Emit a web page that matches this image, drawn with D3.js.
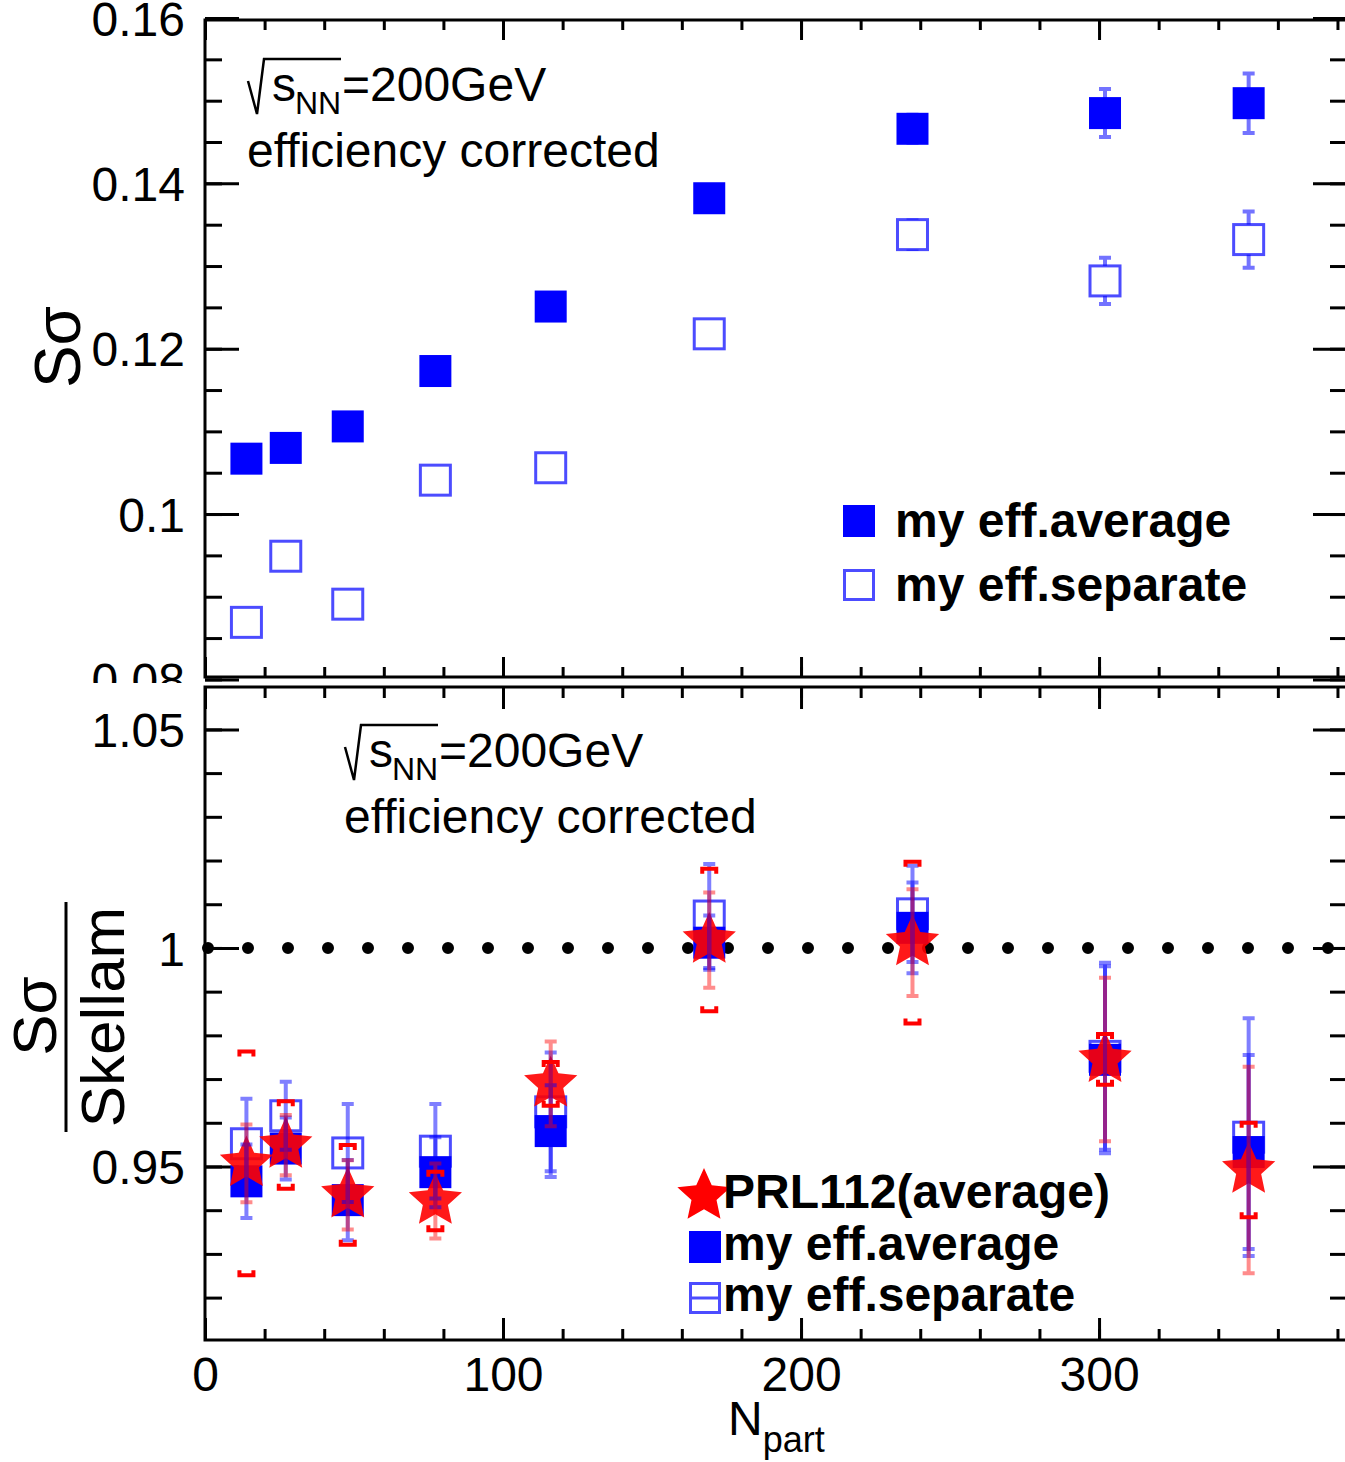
<!DOCTYPE html>
<html>
<head>
<meta charset="utf-8">
<script src="https://cdn.jsdelivr.net/npm/d3@7"></script>
<style>
  html, body { margin: 0; padding: 0; background: #fff; }
  svg { display: block; font-family: "Liberation Sans", Arial, Helvetica, sans-serif; }
</style>
</head>
<body>
<svg id="chart" width="1345" height="1462"></svg>
<script>
// N_part per centrality bin (shared by both panels)
const npart = [13.9, 27.1, 47.9, 77.3, 116.0, 169.2, 237.4, 302.0, 350.2];

// top panel: S*sigma
const avgSS    = [0.1067, 0.1080, 0.1106, 0.1173, 0.1251, 0.1382, 0.1466, 0.1485, 0.1497];
const avgSSErr = [0.0010, 0.0010, 0.0011, 0.0012, 0.0013, 0.0015, 0.0017, 0.0029, 0.0036];
const sepSS    = [0.0869, 0.0949, 0.0891, 0.1041, 0.1056, 0.1218, 0.1338, 0.1282, 0.1332];
const sepSSErr = [0.0010, 0.0010, 0.0011, 0.0012, 0.0013, 0.0015, 0.0017, 0.0028, 0.0034];

// bottom panel: S*sigma / Skellam
const prlRatio  = [0.9507, 0.9549, 0.9435, 0.9421, 0.9689, 1.0018, 1.0012, 0.9745, 0.9492];
const prlStat   = [0.0089, 0.0069, 0.0079, 0.0086, 0.0097, 0.0109, 0.0122, 0.0187, 0.0236];
const prlSys    = [0.0256, 0.0100, 0.0114, 0.0067, 0.0050, 0.0163, 0.0185, 0.0058, 0.0108];
const avgRatio  = [0.9466, 0.9541, 0.9423, 0.9487, 0.9581, 1.0012, 1.0046, 0.9744, 0.9533];
const avgRatioE = [0.0084, 0.0071, 0.0092, 0.0080, 0.0105, 0.0062, 0.0104, 0.0214, 0.0222];
const sepRatio  = [0.9552, 0.9616, 0.9531, 0.9535, 0.9625, 1.0073, 1.0078, 0.9752, 0.9567];
const sepRatioE = [0.0103, 0.0078, 0.0112, 0.0108, 0.0136, 0.0119, 0.0110, 0.0214, 0.0272];

// axes
const xMajor = [0, 100, 200, 300];
const xMinor = d3.range(0, 381, 20);
const topMajor = [0.08, 0.1, 0.12, 0.14, 0.16];
const topMinor = d3.range(16, 33).map(i => i * 0.005);
const botMajor = [0.95, 1, 1.05];
const botMinor = d3.range(92, 106).map(i => i / 100);
const legendTop = ['my eff.average', 'my eff.separate'];
const legendBot = ['PRL112(average)', 'my eff.average', 'my eff.separate'];

const BLUE = '#0000ff', RED = '#ff0000';
const svg = d3.select('#chart');
const L = 205, R = 1347;

const x = d3.scaleLinear().domain([0, 383.2]).range([L, R]);
const yTop = d3.scaleLinear().domain([0.08029, 0.15976]).range([677, 20]);
const yBot = d3.scaleLinear().domain([0.9103, 1.0597]).range([1340, 687]);

svg.append('clipPath').attr('id', 'clipTop').append('rect').attr('x', 0).attr('y', -50).attr('width', 1345).attr('height', 733);
svg.append('clipPath').attr('id', 'clipBot').append('rect').attr('x', 0).attr('y', 683).attr('width', 1345).attr('height', 800);

function styleAxis(sel, size) {
  sel.select('.domain').remove();
  sel.selectAll('line').attr('stroke', '#000').attr('stroke-width', 3);
  sel.selectAll('text').attr('fill', '#000').attr('font-size', size)
    .attr('font-family', '"Liberation Sans", Arial, sans-serif');
}

function yLabel(v) { return d3.format('~g')(v); }

// frame + ticks on all 4 sides
function panel(g, y, yMajor, yMinor, xTickLen, xLabels) {
  const [b, t] = y.range();
  const none = () => '';
  // left
  g.append('g').attr('transform', `translate(${L},0)`)
    .call(d3.axisLeft(y).tickValues(yMajor).tickSize(-34).tickSizeOuter(0).tickPadding(20).tickFormat(yLabel))
    .call(s => styleAxis(s, 48))
    .selectAll('text').attr('dy', '0.36em');
  g.append('g').attr('transform', `translate(${L},0)`)
    .call(d3.axisLeft(y).tickValues(yMinor).tickSize(-17).tickSizeOuter(0).tickFormat(none))
    .call(s => styleAxis(s, 1));
  // right
  g.append('g').attr('transform', `translate(${R},0)`)
    .call(d3.axisRight(y).tickValues(yMajor).tickSize(-34).tickSizeOuter(0).tickFormat(none))
    .call(s => styleAxis(s, 1));
  g.append('g').attr('transform', `translate(${R},0)`)
    .call(d3.axisRight(y).tickValues(yMinor).tickSize(-17).tickSizeOuter(0).tickFormat(none))
    .call(s => styleAxis(s, 1));
  // bottom
  g.append('g').attr('transform', `translate(0,${b})`)
    .call(d3.axisBottom(x).tickValues(xMajor).tickSize(-xTickLen).tickSizeOuter(0).tickPadding(17)
      .tickFormat(xLabels ? d3.format('d') : none))
    .call(s => styleAxis(s, 48));
  g.append('g').attr('transform', `translate(0,${b})`)
    .call(d3.axisBottom(x).tickValues(xMinor).tickSize(-xTickLen / 2).tickSizeOuter(0).tickFormat(none))
    .call(s => styleAxis(s, 1));
  // top
  g.append('g').attr('transform', `translate(0,${t})`)
    .call(d3.axisTop(x).tickValues(xMajor).tickSize(-xTickLen).tickSizeOuter(0).tickFormat(none))
    .call(s => styleAxis(s, 1));
  g.append('g').attr('transform', `translate(0,${t})`)
    .call(d3.axisTop(x).tickValues(xMinor).tickSize(-xTickLen / 2).tickSizeOuter(0).tickFormat(none))
    .call(s => styleAxis(s, 1));
  g.append('rect').attr('x', L).attr('y', t).attr('width', R - L).attr('height', b - t)
    .attr('fill', 'none').attr('stroke', '#000').attr('stroke-width', 3);
}

function starPath(r, k) {
  const pts = [];
  for (let i = 0; i < 10; i++) {
    const a = -Math.PI / 2 + i * Math.PI / 5;
    const rr = i % 2 ? r * k : r;
    pts.push([rr * Math.cos(a), rr * Math.sin(a)]);
  }
  return 'M' + pts.map(p => p.join(',')).join('L') + 'Z';
}
const STAR = starPath(28, 0.47);

function errBars(g, y, rows, color, op, cap) {
  const e = g.append('g').attr('stroke', color).attr('stroke-opacity', op).attr('stroke-width', 4).attr('fill', 'none');
  e.selectAll('path').data(rows).join('path')
    .attr('d', d => {
      const cx = x(d.n), y0 = y(d.v - d.e), y1 = y(d.v + d.e);
      return `M${cx},${y0}V${y1}M${cx - cap},${y0}H${cx + cap}M${cx - cap},${y1}H${cx + cap}`;
    });
}

function energyText(g, x0, yb) {
  g.append('path')
    .attr('d', `M${x0 + 1},${yb - 20}L${x0 + 10},${yb + 13}L${x0 + 17},${yb - 42}H${x0 + 94}`)
    .attr('fill', 'none').attr('stroke', '#000').attr('stroke-width', 2.5);
  const t = g.append('text').attr('x', x0 + 25).attr('y', yb).attr('font-size', 48);
  t.append('tspan').text('s');
  g.append('text').attr('x', x0 + 48).attr('y', yb + 13).attr('font-size', 32).text('NN');
  g.append('text').attr('x', x0 + 95).attr('y', yb).attr('font-size', 48).text('=200GeV');
  g.append('text').attr('x', x0).attr('y', yb + 66).attr('font-size', 48).text('efficiency corrected');
}

// ---------- top panel ----------
const gTop = svg.append('g').attr('clip-path', 'url(#clipTop)');
panel(gTop, yTop, topMajor, topMinor, 20, false);
energyText(gTop, 247, 101);

const topAvg = npart.map((n, i) => ({ n, v: avgSS[i], e: avgSSErr[i] }));
const topSep = npart.map((n, i) => ({ n, v: sepSS[i], e: sepSSErr[i] }));
errBars(gTop, yTop, topAvg, BLUE, 0.55, 6);
errBars(gTop, yTop, topSep, BLUE, 0.55, 6);
gTop.append('g').selectAll('rect').data(topSep).join('rect')
  .attr('x', d => x(d.n) - 15).attr('y', d => yTop(d.v) - 15).attr('width', 30).attr('height', 30)
  .attr('fill', '#fff').attr('stroke', BLUE).attr('stroke-opacity', 0.7).attr('stroke-width', 3);
gTop.append('g').selectAll('rect').data(topAvg).join('rect')
  .attr('x', d => x(d.n) - 16).attr('y', d => yTop(d.v) - 16).attr('width', 32).attr('height', 32)
  .attr('fill', BLUE);

// legend (top)
gTop.append('rect').attr('x', 843).attr('y', 505).attr('width', 32).attr('height', 32).attr('fill', BLUE);
gTop.append('rect').attr('x', 844.5).attr('y', 570.5).attr('width', 29).attr('height', 29)
  .attr('fill', 'none').attr('stroke', BLUE).attr('stroke-opacity', 0.7).attr('stroke-width', 3);
gTop.selectAll('text.leg').data(legendTop).join('text').attr('class', 'leg')
  .attr('x', 895).attr('y', (d, i) => 537 + i * 64).attr('font-size', 48).attr('font-weight', 'bold').text(d => d);

// y title (top)
svg.append('text').attr('transform', 'translate(80,347) rotate(-90)').attr('text-anchor', 'middle')
  .attr('font-size', 64).text('Sσ');

// ---------- bottom panel ----------
const gBot = svg.append('g').attr('clip-path', 'url(#clipBot)');
panel(gBot, yBot, botMajor, botMinor, 22, true);
energyText(gBot, 344, 767);

gBot.append('line').attr('x1', x(0) + 3).attr('x2', R).attr('y1', yBot(1)).attr('y2', yBot(1))
  .attr('stroke', '#000').attr('stroke-width', 12).attr('stroke-linecap', 'round').attr('stroke-dasharray', '0 40');

const botPrl = npart.map((n, i) => ({ n, v: prlRatio[i], e: prlStat[i], s: prlSys[i] }));
const botAvg = npart.map((n, i) => ({ n, v: avgRatio[i], e: avgRatioE[i] }));
const botSep = npart.map((n, i) => ({ n, v: sepRatio[i], e: sepRatioE[i] }));

gBot.append('g').selectAll('rect').data(botSep).join('rect')
  .attr('x', d => x(d.n) - 15).attr('y', d => yBot(d.v) - 15).attr('width', 30).attr('height', 30)
  .attr('fill', '#fff').attr('stroke', BLUE).attr('stroke-opacity', 0.7).attr('stroke-width', 3);
gBot.append('g').selectAll('rect').data(botAvg).join('rect')
  .attr('x', d => x(d.n) - 16).attr('y', d => yBot(d.v) - 16).attr('width', 32).attr('height', 32)
  .attr('fill', BLUE);
gBot.append('g').selectAll('path').data(botPrl).join('path')
  .attr('transform', d => `translate(${x(d.n)},${yBot(d.v)})`).attr('d', STAR)
  .attr('fill', RED).attr('fill-opacity', 0.9);

errBars(gBot, yBot, botSep, BLUE, 0.5, 6);
errBars(gBot, yBot, botAvg, BLUE, 0.5, 6);
errBars(gBot, yBot, botPrl, RED, 0.45, 6);
// systematic brackets (PRL112)
gBot.append('g').attr('stroke', RED).attr('stroke-width', 4).attr('fill', 'none')
  .selectAll('path').data(botPrl).join('path')
  .attr('d', d => {
    const cx = x(d.n), yt = yBot(d.v + d.s), yb = yBot(d.v - d.s);
    return `M${cx - 7},${yt + 5}V${yt}H${cx + 7}V${yt + 5}M${cx - 7},${yb - 5}V${yb}H${cx + 7}V${yb - 5}`;
  });

// legend (bottom)
gBot.append('path').attr('transform', 'translate(704,1196)').attr('d', STAR).attr('fill', RED);
gBot.append('rect').attr('x', 689).attr('y', 1231).attr('width', 32).attr('height', 32).attr('fill', BLUE);
gBot.append('rect').attr('x', 690.5).attr('y', 1283.5).attr('width', 29).attr('height', 29)
  .attr('fill', 'none').attr('stroke', BLUE).attr('stroke-opacity', 0.7).attr('stroke-width', 3);
gBot.append('line').attr('x1', 692).attr('x2', 718).attr('y1', 1298).attr('y2', 1298)
  .attr('stroke', BLUE).attr('stroke-opacity', 0.7).attr('stroke-width', 3);
gBot.selectAll('text.leg').data(legendBot).join('text').attr('class', 'leg')
  .attr('x', 723).attr('y', (d, i) => [1208, 1260, 1311][i]).attr('font-size', 48).attr('font-weight', 'bold').text(d => d);

// y title (bottom): fraction
svg.append('text').attr('transform', 'translate(56,1016) rotate(-90)').attr('text-anchor', 'middle')
  .attr('font-size', 62).text('Sσ');
svg.append('line').attr('x1', 66).attr('x2', 66).attr('y1', 902).attr('y2', 1132)
  .attr('stroke', '#000').attr('stroke-width', 3);
svg.append('text').attr('transform', 'translate(124,1017) rotate(-90)').attr('text-anchor', 'middle')
  .attr('font-size', 62).text('Skellam');

// x title
const xt = svg.append('text').attr('x', 728).attr('y', 1435).attr('font-size', 48);
xt.append('tspan').text('N');
xt.append('tspan').attr('font-size', 36).attr('dy', 17).text('part');
</script>
</body>
</html>
